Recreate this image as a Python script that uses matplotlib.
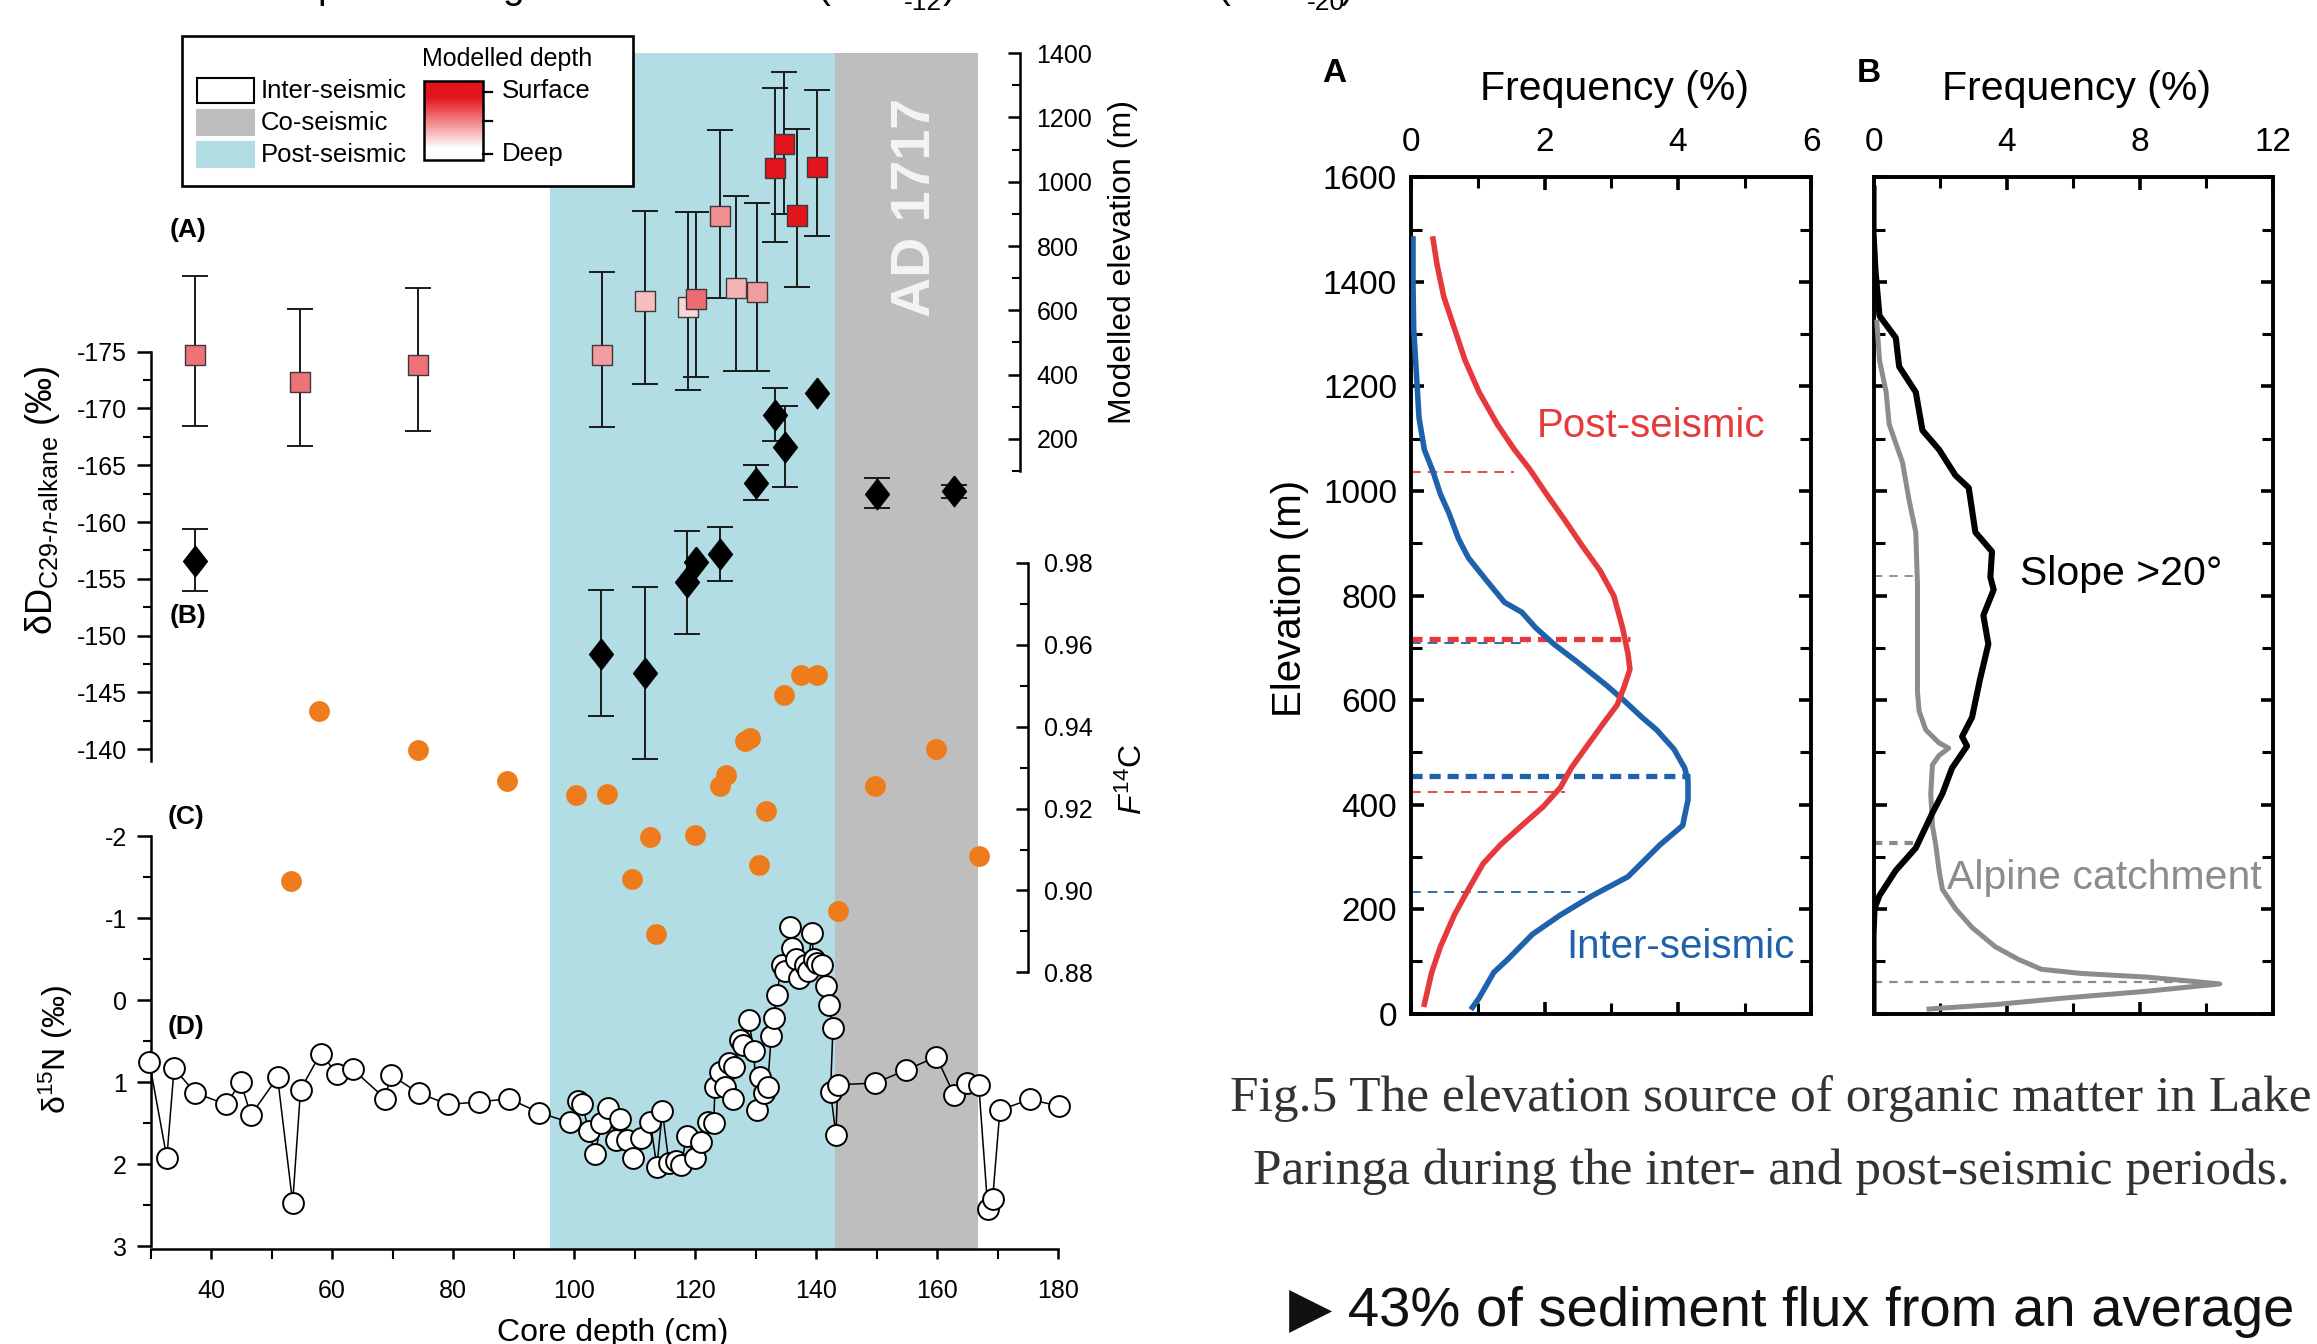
import numpy as np
import matplotlib
matplotlib.use("Agg")
import matplotlib.pyplot as plt
from matplotlib import font_manager
from matplotlib.colors import LinearSegmentedColormap
from matplotlib.patches import Rectangle
from matplotlib.ticker import FixedLocator, MultipleLocator, FormatStrFormatter


W, H, DPI = 2317, 1344, 100

# ---------------- left figure: Lake Paringa core (depth in cm) ----------------
POST_SEISMIC = (96.0, 143.2)
CO_SEISMIC = (143.2, 166.8)

# (A) modelled source elevation (m) with range, colour = modelled depth (0 deep .. 1 surface)
elev_depth = [37.3, 54.7, 74.2, 104.6, 111.8, 118.8, 120.2, 124.2, 126.8, 130.2, 133.2, 134.7, 136.8, 140.2]
elev_value = [460, 376, 429, 462, 630, 610, 636, 893, 670, 657, 1043, 1118, 895, 1045]
elev_hi = [707, 604, 668, 718, 910, 905, 905, 1160, 955, 934, 1291, 1343, 1163, 1284]
elev_lo = [240, 177, 224, 236, 371, 353, 392, 638, 412, 412, 814, 900, 674, 830]
elev_shade = [0.6, 0.6, 0.6, 0.42, 0.28, 0.18, 0.62, 0.48, 0.32, 0.42, 1.0, 1.0, 1.0, 1.0]

# (B) dD C29 n-alkane (permil); None = no error bar drawn
dd_depth = [37.3, 104.5, 111.7, 118.7, 120.2, 124.1, 130.0, 133.2, 134.9, 140.1, 150.0, 162.8]
dd_value = [-156.6, -148.4, -146.7, -154.7, -156.5, -157.2, -163.4, -169.4, -166.6, -171.4, -162.5, -162.7]
dd_top = [-159.4, -154.0, -154.3, -159.2, None, -159.6, -165.0, -171.8, -170.2, None, -163.9, -163.3]
dd_bot = [-153.9, -142.9, -139.1, -150.1, None, -154.8, -161.9, -167.1, -163.1, None, -161.2, -162.1]

# (C) F14C
f_depth = [53.2, 57.9, 74.2, 89.0, 100.4, 105.5, 109.6, 112.6, 113.5, 120.0, 124.1, 125.1,
           128.2, 129.1, 130.6, 131.7, 134.7, 137.6, 140.1, 143.6, 149.8, 159.9, 166.9]
f_value = [0.9022, 0.9439, 0.9344, 0.9267, 0.9232, 0.9236, 0.9028, 0.9131, 0.8894, 0.9136, 0.9255, 0.9282,
           0.9364, 0.9372, 0.9061, 0.9193, 0.9477, 0.9526, 0.9526, 0.8951, 0.9255, 0.9346, 0.9085]

# (D) d15N (permil)
n15_depth = [29.8, 32.7, 33.9, 37.4, 42.5, 44.9, 46.6, 51.0, 53.5, 54.8, 58.1, 60.9, 63.4, 68.8, 69.7,
             74.3, 79.2, 84.3, 89.3, 94.2, 99.3, 100.6, 101.4, 102.4, 103.5, 104.5, 105.6, 107.0, 107.6,
             108.8, 109.7, 111.1, 112.6, 113.7, 114.6, 115.7, 116.9, 117.7, 118.6, 120.0, 121.0, 122.1,
             123.1, 123.3, 124.2, 125.0, 125.6, 126.2, 126.5, 127.4, 128.0, 128.9, 129.7, 130.3, 130.8,
             131.4, 132.0, 132.6, 133.0, 133.5, 134.3, 134.9, 135.7, 136.1, 136.7, 137.2, 138.2, 138.6,
             139.3, 139.6, 140.1, 141.0, 141.7, 142.1, 142.8, 142.4, 143.3, 143.6, 149.8, 154.9, 159.9,
             162.8, 164.9, 166.9, 168.4, 169.2, 170.4, 175.3, 180.2]
n15_value = [0.75, 1.92, 0.83, 1.13, 1.27, 1.00, 1.40, 0.94, 2.47, 1.09, 0.65, 0.90, 0.84, 1.20, 0.91,
             1.13, 1.27, 1.24, 1.20, 1.37, 1.49, 1.23, 1.27, 1.59, 1.87, 1.50, 1.31, 1.71, 1.45,
             1.71, 1.92, 1.68, 1.48, 2.03, 1.35, 1.99, 1.96, 2.01, 1.66, 1.92, 1.73, 1.48,
             1.50, 1.06, 0.87, 1.06, 0.76, 1.20, 0.81, 0.48, 0.55, 0.24, 0.62, 1.34, 0.94,
             1.13, 1.06, 0.43, 0.22, -0.06, -0.43, -0.36, -0.89, -0.64, -0.50, -0.27, -0.43, -0.36,
             -0.82, -0.50, -0.45, -0.43, -0.17, 0.06, 0.34, 1.12, 1.64, 1.03, 1.01, 0.85, 0.69,
             1.15, 1.01, 1.03, 2.54, 2.42, 1.34, 1.21, 1.29]

# ---------------- right figure: elevation frequency ----------------
blue_freq = [0.03, 0.03, 0.04, 0.08, 0.12, 0.2, 0.33, 0.44, 0.57, 0.71, 0.86, 1.13, 1.4, 1.66, 1.87, 2.14,
             2.51, 2.93, 3.2, 3.46, 3.68, 3.94, 4.1, 4.15, 4.15, 4.07, 3.73, 3.25, 2.72, 2.24, 1.82, 1.45,
             1.24, 1.02, 0.92]
blue_elev = [1482, 1396, 1311, 1226, 1140, 1079, 1037, 994, 957, 909, 872, 829, 787, 768, 738, 707,
             671, 628, 598, 567, 543, 506, 470, 445, 409, 360, 323, 262, 226, 189, 152, 104,
             79, 30, 12]
red_freq = [0.33, 0.39, 0.49, 0.65, 0.81, 1.02, 1.29, 1.55, 1.77, 2.03, 2.3, 2.56, 2.83, 3.04, 3.17, 3.25,
            3.28, 3.2, 3.09, 2.88, 2.67, 2.4, 2.24, 1.98, 1.66, 1.34, 1.08, 0.86, 0.65, 0.44, 0.31, 0.2]
red_elev = [1482, 1433, 1372, 1311, 1250, 1189, 1128, 1079, 1043, 994, 945, 896, 848, 799, 738, 689,
            659, 628, 591, 555, 518, 470, 433, 396, 360, 323, 287, 238, 189, 128, 79, 18]
# reference elevations (m) and the frequency they run to
a_ref_elev = [1037, 717, 710, 455, 424, 232]
a_ref_end = [1.55, 3.28, 1.75, 4.18, 2.3, 2.6]
a_ref_kind = ["post", "post-mean", "inter", "inter-mean", "post", "inter"]

black_freq = [0, 0, 0.06, 0.18, 0.67, 0.77, 1.27, 1.47, 1.97, 2.46, 2.86, 3.06, 3.56, 3.51, 3.61, 3.3,
              3.45, 3.2, 2.96, 2.66, 2.81, 2.36, 2.07, 1.77, 1.27, 0.67, 0.18, 0.03, 0, 0]
black_elev = [1579, 1494, 1421, 1335, 1293, 1238, 1189, 1116, 1079, 1030, 1006, 921, 884, 835, 811, 762,
              707, 640, 567, 530, 512, 470, 421, 384, 317, 274, 226, 201, 150, 0]
gray_freq = [0.1, 0.18, 0.38, 0.47, 0.67, 0.87, 1.07, 1.27, 1.32, 1.32, 1.32, 1.37, 1.57, 1.97, 2.26, 1.97,
             1.77, 1.72, 1.77, 1.87, 1.97, 2.07, 2.46, 2.96, 3.66, 4.35, 5.04, 6.24, 8.22, 10.4, 8.22, 5.74,
             3.75, 1.67]
gray_elev = [1323, 1250, 1189, 1128, 1091, 1055, 982, 921, 823, 701, 616, 579, 543, 518, 508, 494,
             476, 421, 360, 323, 274, 238, 201, 165, 128, 104, 85, 77, 70, 57, 43, 30,
             18, 9]
b_ref_elev = [838, 326, 61]
b_ref_end = [1.3, 1.3, 9.3]
b_ref_lw = [1.3, 3.0, 1.6]

CYAN = "#B3DDE4"
GRAY_BAND = "#BEBEBE"
RED = "#E5393B"
BLUE = "#1D62AA"
ORANGE = "#EF7C1C"
DEPTH_CMAP = LinearSegmentedColormap.from_list("depth", ["#FFFFFF", "#E3141B"])

_names = {f.name for f in font_manager.fontManager.ttflist}
NARROW = "Liberation Sans Narrow" if "Liberation Sans Narrow" in _names else None

plt.rcParams.update({
    "font.family": ["Liberation Sans", "DejaVu Sans"],
    "mathtext.fontset": "custom",
    "mathtext.rm": "Liberation Sans",
    "mathtext.it": "Liberation Sans:italic",
    "mathtext.bf": "Liberation Sans:bold",
    "axes.unicode_minus": False,
    "lines.scale_dashes": False,
})


def fxy(x, y):
    return x / W, 1 - y / H


def rect(x0, y0, x1, y1):
    return [x0 / W, 1 - y1 / H, (x1 - x0) / W, (y1 - y0) / H]


def overlay_axis(fig, pos, base):
    ax = fig.add_axes(pos, sharex=base)
    ax.patch.set_visible(False)
    ax.xaxis.set_visible(False)
    for s in ("top", "bottom", "left", "right"):
        ax.spines[s].set_visible(False)
    return ax


def draw_core(fig):
    pos = rect(150.5, 53.2, 1058.0, 1248.7)
    ax_n = fig.add_axes(pos)
    ax_e = overlay_axis(fig, pos, ax_n)
    ax_d = overlay_axis(fig, pos, ax_n)
    ax_f = overlay_axis(fig, pos, ax_n)

    # bands
    ax_n.axvspan(*POST_SEISMIC, color=CYAN, lw=0, zorder=0)
    ax_n.axvspan(*CO_SEISMIC, color=GRAY_BAND, lw=0, zorder=0)

    # (D) d15N
    ax_n.plot(n15_depth, n15_value, color="black", lw=1.1, marker="o", ms=15, mfc="white",
              mec="black", mew=1.4, zorder=3, clip_on=False)
    ax_n.set_xlim(30, 180)
    ax_n.set_ylim(3.03, -11.55)
    ax_n.spines["top"].set_visible(False)
    ax_n.spines["right"].set_visible(False)
    ax_n.spines["left"].set_bounds(-2, 3)
    for s in ("left", "bottom"):
        ax_n.spines[s].set_linewidth(1.8)
    ax_n.yaxis.set_major_locator(FixedLocator([-2, -1, 0, 1, 2, 3]))
    ax_n.yaxis.set_minor_locator(FixedLocator([-1.5, -0.5, 0.5, 1.5, 2.5]))
    ax_n.xaxis.set_major_locator(FixedLocator([40, 60, 80, 100, 120, 140, 160, 180]))
    ax_n.xaxis.set_minor_locator(FixedLocator([30, 50, 70, 90, 110, 130, 150, 170]))
    ax_n.tick_params(axis="y", which="major", direction="out", length=10, width=1.8, pad=7, labelsize=18)
    ax_n.tick_params(axis="y", which="minor", direction="out", length=6, width=1.5)
    ax_n.tick_params(axis="x", which="major", direction="out", length=7, width=1.8, pad=15, labelsize=18)
    ax_n.tick_params(axis="x", which="minor", direction="out", length=7, width=1.5)

    # (A) modelled elevation
    e = np.array(elev_value, float)
    yerr = [e - np.array(elev_lo), np.array(elev_hi) - e]
    ax_e.errorbar(elev_depth, elev_value, yerr=yerr, fmt="none", ecolor="#1a1a1a",
                  elinewidth=1.4, capsize=9.5, capthick=1.4, zorder=2)
    ax_e.scatter(elev_depth, elev_value, marker="s", s=14.5 ** 2,
                 c=[DEPTH_CMAP(v) for v in elev_shade], edgecolors="#3a3a3a", linewidths=1.0, zorder=3)
    ax_e.set_ylim(-2319.5, 1400)
    ax_e.spines["right"].set_visible(True)
    ax_e.spines["right"].set_position(("data", 173.7))
    ax_e.spines["right"].set_bounds(100, 1400)
    ax_e.spines["right"].set_linewidth(1.8)
    ax_e.yaxis.tick_right()
    ax_e.yaxis.set_major_locator(FixedLocator([200, 400, 600, 800, 1000, 1200, 1400]))
    ax_e.yaxis.set_minor_locator(FixedLocator([100, 300, 500, 700, 900, 1100, 1300]))
    ax_e.tick_params(axis="y", which="major", direction="in", length=9, width=1.8, pad=12, labelsize=18)
    ax_e.tick_params(axis="y", which="minor", direction="in", length=6, width=1.5)

    # (B) dD
    ok = [i for i, t in enumerate(dd_top) if t is not None]
    ax_d.errorbar([dd_depth[i] for i in ok], [dd_value[i] for i in ok],
                  yerr=[[dd_value[i] - dd_top[i] for i in ok], [dd_bot[i] - dd_value[i] for i in ok]],
                  fmt="none", ecolor="#1a1a1a", elinewidth=1.4, capsize=9.5, capthick=1.4, zorder=2)
    diamond = [(0, 1), (0.78, 0), (0, -1), (-0.78, 0), (0, 1)]
    ax_d.plot(dd_depth, dd_value, ls="none", marker=diamond, ms=22, color="black", zorder=3)
    ax_d.set_ylim(-96.02, -201.28)
    ax_d.spines["left"].set_visible(True)
    ax_d.spines["left"].set_bounds(-175, -139)
    ax_d.spines["left"].set_linewidth(1.8)
    ax_d.yaxis.set_major_locator(FixedLocator([-175, -170, -165, -160, -155, -150, -145, -140]))
    ax_d.yaxis.set_minor_locator(FixedLocator([-172.5, -167.5, -162.5, -157.5, -152.5, -147.5, -142.5]))
    ax_d.tick_params(axis="y", which="major", direction="out", length=10, width=1.8, pad=7, labelsize=18)
    ax_d.tick_params(axis="y", which="minor", direction="out", length=6, width=1.5)

    # (C) F14C
    ax_f.plot(f_depth, f_value, ls="none", marker="o", ms=15, color=ORANGE, mec="none", zorder=3)
    ax_f.set_ylim(0.8125, 1.1045)
    ax_f.spines["right"].set_visible(True)
    ax_f.spines["right"].set_position(("data", 175.0))
    ax_f.spines["right"].set_bounds(0.88, 0.98)
    ax_f.spines["right"].set_linewidth(1.8)
    ax_f.yaxis.tick_right()
    ax_f.yaxis.set_major_locator(FixedLocator([0.88, 0.90, 0.92, 0.94, 0.96, 0.98]))
    ax_f.yaxis.set_minor_locator(FixedLocator([0.89, 0.91, 0.93, 0.95, 0.97]))
    ax_f.yaxis.set_major_formatter(FormatStrFormatter("%.2f"))
    ax_f.tick_params(axis="y", which="major", direction="in", length=9, width=1.8, pad=12, labelsize=18)
    ax_f.tick_params(axis="y", which="minor", direction="in", length=6, width=1.5)

    # axis titles and panel letters
    fig.text(*fxy(42, 500), r"δD$_{\mathregular{C29}\text{-}\mathit{n}\text{-}\mathregular{alkane}}$ (‰)",
             rotation=90, ha="center", va="center", fontsize=26)
    fig.text(*fxy(56, 1049), r"δ$^{\mathregular{15}}$N (‰)", rotation=90, ha="center", va="center",
             fontsize=23)
    fig.text(*fxy(1123, 262), "Modelled elevation (m)", rotation=90, ha="center", va="center", fontsize=23)
    fig.text(*fxy(1133, 779), r"$\mathit{F}^{\mathregular{14}}$C", rotation=90, ha="center", va="center",
             fontsize=23)
    fig.text(*fxy(613, 1333), "Core depth (cm)", ha="center", va="center", fontsize=23)
    for lab, (x, y) in zip(["(A)", "(B)", "(C)", "(D)"],
                           [(188, 230), (188, 616), (186, 817), (186, 1027)]):
        fig.text(*fxy(x, y), lab, ha="center", va="center", fontsize=19, weight="bold")


def draw_legend(ov):
    ov.add_patch(Rectangle((182, 35.5), 450.5, 150.5, facecolor="white", edgecolor="black", lw=1.9, zorder=5))
    swatches = [("white", "Inter-seismic"), (GRAY_BAND, "Co-seismic"), (CYAN, "Post-seismic")]
    for i, (col, lab) in enumerate(swatches):
        y0 = 78 + i * 32
        ov.add_patch(Rectangle((196.5, y0), 57.5, 25, facecolor=col,
                               edgecolor="black" if col == "white" else col, lw=1.5, zorder=6))
        ov.text(261, y0 + 13, lab, ha="left", va="center", fontsize=18.5, zorder=7)
    ov.text(507, 59, "Modelled depth", ha="center", va="center", fontsize=18, zorder=7)
    grad = np.clip((np.linspace(1, 0, 100) - 0.15) / 0.65, 0, 1)[:, None]
    ov.imshow(grad, extent=(424, 483, 160, 81), cmap=DEPTH_CMAP, vmin=0, vmax=1,
              aspect="auto", zorder=6, interpolation="bilinear")
    ov.add_patch(Rectangle((424, 81), 59, 79, facecolor="none", edgecolor="black", lw=1.8, zorder=7))
    for yy in (91.5, 121, 153.5):
        ov.plot([483, 492], [yy, yy], color="black", lw=1.6, zorder=7)
    ov.text(502, 91.5, "Surface", ha="left", va="center", fontsize=18.5, zorder=7)
    ov.text(502, 153.5, "Deep", ha="left", va="center", fontsize=18.5, zorder=7)


def style_freq_axis(ax, xmax, xmajor, xminor, labelleft):
    ax.set_xlim(0, xmax)
    ax.set_ylim(0, 1600)
    for s in ax.spines.values():
        s.set_linewidth(2.8)
    ax.xaxis.set_major_locator(MultipleLocator(xmajor))
    ax.xaxis.set_minor_locator(MultipleLocator(xminor))
    ax.yaxis.set_major_locator(MultipleLocator(200))
    ax.yaxis.set_minor_locator(MultipleLocator(100))
    ax.tick_params(axis="both", which="both", direction="in", top=True, bottom=True, left=True, right=True,
                   labeltop=True, labelbottom=False, labelleft=labelleft, labelright=False)
    ax.tick_params(axis="both", which="major", length=9, width=2.6, labelsize=24)
    ax.tick_params(axis="both", which="minor", length=8, width=2.2)
    ax.tick_params(axis="x", which="major", pad=14)
    ax.tick_params(axis="y", which="major", pad=10)


def draw_frequency(fig):
    axA = fig.add_axes(rect(1411, 177.3, 1811.5, 1013.7))
    style_freq_axis(axA, 6, 2, 1, True)
    styles = {"post": (RED, 1.3, (7, 5)), "post-mean": (RED, 3.8, (8, 5)),
              "inter": (BLUE, 1.3, (7, 5)), "inter-mean": (BLUE, 3.8, (8, 5))}
    for yv, xe, kind in zip(a_ref_elev, a_ref_end, a_ref_kind):
        col, lw, dash = styles[kind]
        axA.plot([0, xe], [yv, yv], color=col, lw=lw, dashes=dash, zorder=2 if "inter" in kind else 2.5)
    axA.plot(blue_freq, blue_elev, color=BLUE, lw=4.0, zorder=3)
    axA.plot(red_freq, red_elev, color=RED, lw=4.0, zorder=3)
    axA.text(1.88, 1124, "Post-seismic", color=RED, fontsize=29, ha="left", va="center")
    axA.text(2.32, 127, "Inter-seismic", color=BLUE, fontsize=29, ha="left", va="center")

    axB = fig.add_axes(rect(1873.5, 177.3, 2273, 1013.7))
    style_freq_axis(axB, 12, 4, 2, False)
    for yv, xe, lw in zip(b_ref_elev, b_ref_end, b_ref_lw):
        axB.plot([0, xe], [yv, yv], color="#8A8A8A", lw=lw, dashes=(6, 5), zorder=2)
    axB.plot(gray_freq, gray_elev, color="#8C8C8C", lw=3.6, zorder=3)
    axB.plot(black_freq, black_elev, color="black", lw=4.4, zorder=4)
    axB.text(4.41, 842, "Slope >20°", color="black", fontsize=29.5, ha="left", va="center")
    axB.text(2.2, 260, "Alpine catchment", color="#8C8C8C", fontsize=29.5, ha="left", va="center")

    fig.text(*fxy(1290, 598), "Elevation (m)", rotation=90, ha="center", va="center",
             fontsize=33 if NARROW else 29, family=[NARROW or "Liberation Sans", "DejaVu Sans"])
    fig.text(*fxy(1615, 89), "Frequency (%)", ha="center", va="center", fontsize=29.5)
    fig.text(*fxy(2076, 89), "Frequency (%)", ha="center", va="center", fontsize=29.5)
    fig.text(*fxy(1334, 74), "A", ha="center", va="center", fontsize=24, weight="bold")
    fig.text(*fxy(1869, 74), "B", ha="center", va="center", fontsize=24, weight="bold")


def draw_text(fig, ov):
    ov.text(916, 207, "AD 1717", rotation=90, ha="center", va="center", color="#F4F4F4",
            fontsize=40, weight="bold", zorder=4, family=["Liberation Sans", "DejaVu Sans"])
    serif = ["Liberation Serif", "DejaVu Serif"]
    fig.text(*fxy(1771, 1099), "Fig.5 The elevation source of organic matter in Lake", ha="center",
             va="center", fontsize=37, color="#333333", family=serif)
    fig.text(*fxy(1771, 1172), "Paringa during the inter- and post-seismic periods.", ha="center",
             va="center", fontsize=37, color="#333333", family=serif)
    fig.text(*fxy(1289, 1312), "▶ 43% of sediment flux from an average", ha="left", va="center",
             fontsize=48 if NARROW else 40.5, color="#111111",
             family=[NARROW or "Liberation Sans", "DejaVu Sans"])
    # fragments of the heading that is cut off above the figure
    for x, s in [(328, "p"), (513, "g"), (824, "("), (949, ")"), (1224, "("), (1347, ")")]:
        fig.text(*fxy(x, -2), s, ha="center", va="baseline", fontsize=28)
    for x, s in [(923, "-12"), (1326, "-20")]:
        fig.text(*fxy(x, 10), s, ha="center", va="baseline", fontsize=19)


def main():
    fig = plt.figure(figsize=(W / DPI, H / DPI), dpi=DPI, facecolor="white")
    draw_core(fig)
    draw_frequency(fig)
    ov = fig.add_axes([0, 0, 1, 1])
    ov.set_autoscale_on(False)
    ov.set_xlim(0, W)
    ov.set_ylim(H, 0)
    ov.axis("off")
    ov.patch.set_visible(False)
    draw_legend(ov)
    draw_text(fig, ov)
    ov.set_xlim(0, W)
    ov.set_ylim(H, 0)
    fig.savefig("out.png", dpi=DPI, facecolor="white")
    plt.close(fig)


if __name__ == "__main__":
    main()
